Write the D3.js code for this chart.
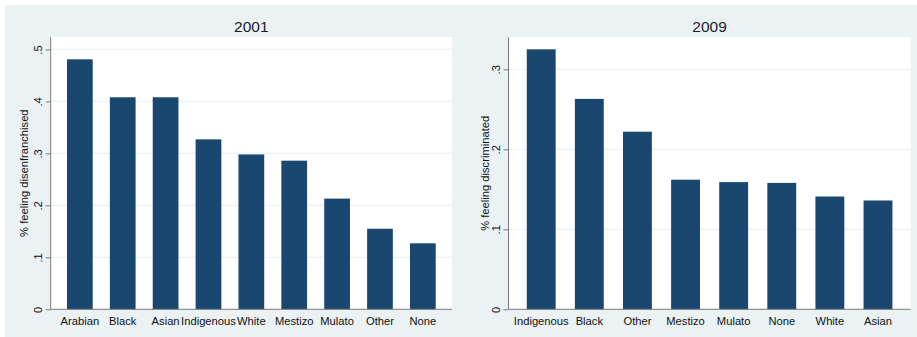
<!DOCTYPE html>
<html>
<head>
<meta charset="utf-8">
<script src="https://cdn.jsdelivr.net/npm/d3@7"></script>
<style>
  html, body { margin: 0; padding: 0; background: #ffffff; }
  svg { display: block; font-family: "Liberation Sans", Arial, sans-serif; }
</style>
</head>
<body>
<svg id="chart" width="917" height="337"></svg>
<script>
// Share of respondents by ethnic self-identification, two survey waves
const groups2001 = ["Arabian", "Black", "Asian", "Indigenous", "White", "Mestizo", "Mulato", "Other", "None"];
const values2001 = [0.481, 0.408, 0.408, 0.327, 0.298, 0.286, 0.213, 0.155, 0.127];
const ticks2001 = [0, 0.1, 0.2, 0.3, 0.4, 0.5];
const tickLabels2001 = ["0", ".1", ".2", ".3", ".4", ".5"];
const yMax2001 = 0.524;

const groups2009 = ["Indigenous", "Black", "Other", "Mestizo", "Mulato", "None", "White", "Asian"];
const values2009 = [0.325, 0.263, 0.222, 0.162, 0.159, 0.158, 0.141, 0.136];
const ticks2009 = [0, 0.1, 0.2, 0.3];
const tickLabels2009 = ["0", ".1", ".2", ".3"];
const yMax2009 = 0.34;

const titles = ["2001", "2009"];
const yTitles = ["% feeling disenfranchised", "% feeling discriminated"];

const BG = "#eaf2f3", BAR = "#1a476f", AXIS = "#7a7a7a", TEXT = "#111111";

const svg = d3.select("#chart");

// graph region background
svg.append("rect")
  .attr("x", 5).attr("y", 5)
  .attr("width", 912).attr("height", 332)
  .attr("fill", BG);

const panels = [
  { title: titles[0], yTitle: yTitles[0], groups: groups2001, values: values2001,
    ticks: ticks2001, tickLabels: tickLabels2001, yMax: yMax2001,
    x0: 50.7, x1: 452, y0: 37, y1: 309.3, titleOff: 22.7 },
  { title: titles[1], yTitle: yTitles[1], groups: groups2009, values: values2009,
    ticks: ticks2009, tickLabels: tickLabels2009, yMax: yMax2009,
    x0: 508.5, x1: 910.7, y0: 37.3, y1: 309.3, titleOff: 20 }
];

panels.forEach(p => {
  const g = svg.append("g");

  const x = d3.scaleBand()
    .domain(p.groups)
    .range([p.x0, p.x1])
    .paddingInner(0.4)
    .paddingOuter(0.38);

  const y = d3.scaleLinear()
    .domain([0, p.yMax])
    .range([p.y1, p.y0]);

  // plot region
  g.append("rect")
    .attr("x", p.x0).attr("y", p.y0)
    .attr("width", p.x1 - p.x0).attr("height", p.y1 - p.y0)
    .attr("fill", "#ffffff");

  // horizontal grid lines
  g.selectAll("line.grid")
    .data(p.ticks.filter(t => t > 0))
    .join("line")
    .attr("class", "grid")
    .attr("x1", p.x0).attr("x2", p.x1)
    .attr("y1", d => y(d)).attr("y2", d => y(d))
    .attr("stroke", BG).attr("stroke-width", 1.2);

  // bars
  g.selectAll("rect.bar")
    .data(p.groups.map((k, i) => ({ k, v: p.values[i] })))
    .join("rect")
    .attr("class", "bar")
    .attr("x", d => x(d.k))
    .attr("width", x.bandwidth())
    .attr("y", d => y(d.v))
    .attr("height", d => y(0) - y(d.v))
    .attr("fill", BAR);

  // y axis
  const yAxis = d3.axisLeft(y)
    .tickValues(p.ticks)
    .tickFormat((d, i) => p.tickLabels[i])
    .tickSize(5)
    .tickPadding(0);
  const ya = g.append("g")
    .attr("transform", `translate(${p.x0},0)`)
    .call(yAxis);
  ya.select(".domain").attr("stroke", AXIS).attr("d", `M0,${p.y0}V${p.y1}`);
  ya.selectAll(".tick line").attr("stroke", AXIS);
  ya.selectAll(".tick text")
    .attr("fill", TEXT)
    .attr("font-size", "11.2px")
    .attr("text-anchor", "middle")
    .attr("dy", null)
    .attr("x", null)
    .attr("transform", "translate(-9,0) rotate(-90)")
    .attr("y", 0);

  // x axis (category labels, no tick marks)
  const xAxis = d3.axisBottom(x).tickSize(0).tickPadding(0);
  const xa = g.append("g")
    .attr("transform", `translate(0,${p.y1})`)
    .call(xAxis);
  xa.select(".domain").attr("stroke", AXIS).attr("d", `M${p.x0},0H${p.x1}`);
  xa.selectAll(".tick text")
    .attr("fill", TEXT)
    .attr("font-size", "11.2px")
    .attr("dy", null)
    .attr("y", 15.7);

  // y-axis title
  g.append("text")
    .attr("transform", `translate(${p.x0 - p.titleOff},${(p.y0 + p.y1) / 2}) rotate(-90)`)
    .attr("text-anchor", "middle")
    .attr("font-size", "11.2px")
    .attr("fill", TEXT)
    .text(p.yTitle);

  // panel title
  g.append("text")
    .attr("x", (p.x0 + p.x1) / 2)
    .attr("y", 32.3)
    .attr("text-anchor", "middle")
    .attr("font-size", "15.5px")
    .attr("fill", "#1c1c2c")
    .text(p.title);
});
</script>
</body>
</html>
